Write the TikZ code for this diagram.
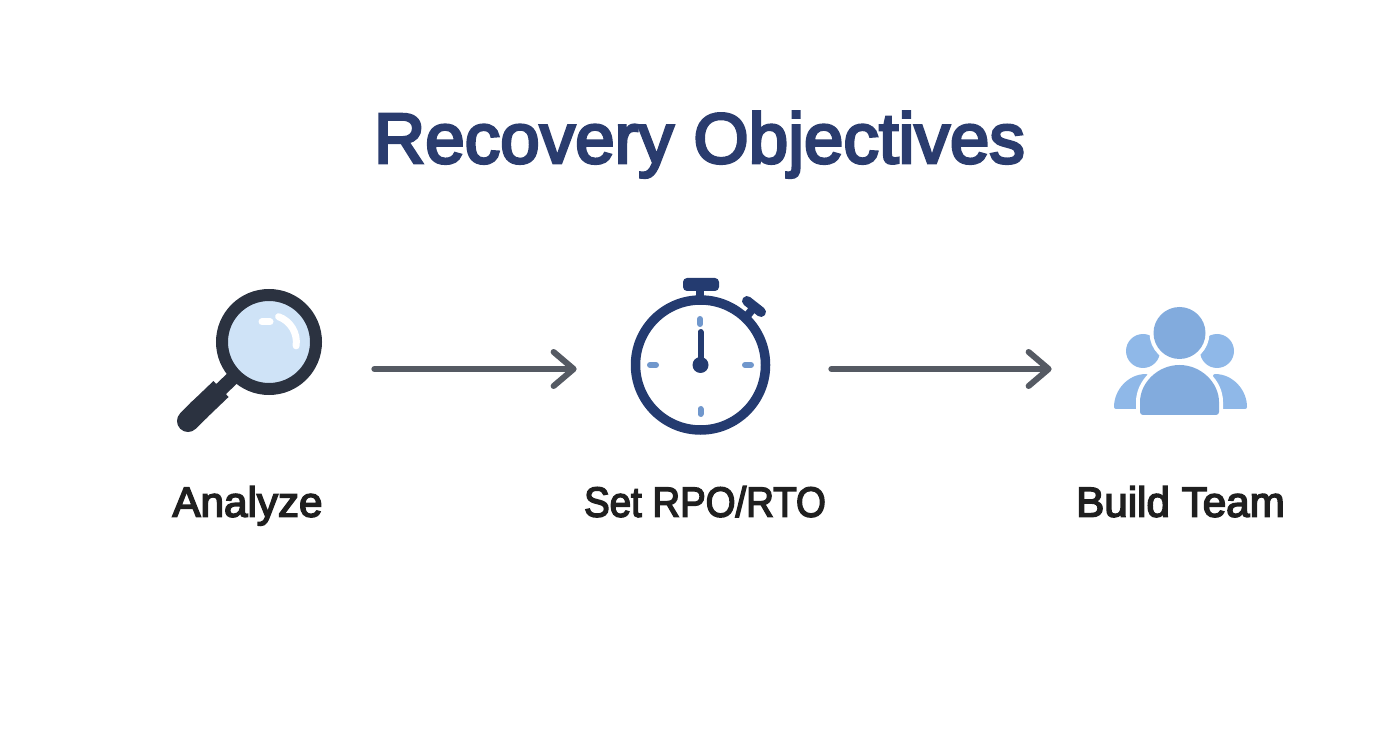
\documentclass[tikz,border=0pt]{standalone}
\usepackage{fontspec}
\setmainfont{Liberation Sans}
\usetikzlibrary{arrows.meta,positioning}
\definecolor{ltitle}{RGB}{42, 60, 110}
\definecolor{lring}{RGB}{43, 50, 64}
\definecolor{llens}{RGB}{207, 227, 247}
\definecolor{lwatch}{RGB}{36, 59, 112}
\definecolor{ltick}{RGB}{112, 151, 204}
\definecolor{lback}{RGB}{143, 184, 232}
\definecolor{lfront}{RGB}{130, 171, 221}
\definecolor{lflow}{RGB}{85, 90, 99}
\newcommand{\heavy}[2]{\special{pdf:code 2 Tr #1 w}#2\special{pdf:code 0 Tr 1 w}}
\tikzstyle{icon} = [inner sep=0pt, minimum height=26.4mm]
\tikzstyle{steplabel} = [font=\fontsize{24}{28}\selectfont, text=black!88, inner sep=0pt,
  text height=5.2mm, text depth=1.2mm, below=11mm of #1]
\tikzstyle{flow} = [draw, line width=1.2mm, color=lflow, line cap=round,
  -{Straight Barb[length=4mm,width=6.8mm,line width=1.2mm,round]}]
\tikzstyle{hand} = [line width=1.2mm, line cap=round, color=lwatch]
\tikzstyle{tick} = [line width=1.2mm, line cap=round, color=ltick]
\tikzstyle{halo} = [fill=lfront, preaction={draw=white, line width=1.6mm}]

\begin{document}
\begin{tikzpicture}[x=0.2mm,y=0.2mm]

  \useasboundingbox (0,0) rectangle (1392,-752);

  %%%%%%%%%%%%%%%%%%%%%%%%%%%%%%%%%%%%%%%%%%%%%%%%%%%%%%%%%%%%%%
  %                    TITLE AND STEPS                         %
  %%%%%%%%%%%%%%%%%%%%%%%%%%%%%%%%%%%%%%%%%%%%%%%%%%%%%%%%%%%%%%

  \node [font=\fontsize{40.4}{46}\selectfont, text=ltitle, inner sep=0pt, anchor=base] (title) at (699.5,-163) {\heavy{1.6}{Recovery Objectives}};

  \node [icon, minimum width=29.2mm] (analyze-icon) at (250,-369) {};
  \node [icon, minimum width=27.8mm] (timer-icon) at (700.5,-369) {};
  \node [icon, minimum width=26.6mm] (team-icon) at (1180.5,-369) {};

  \node [steplabel=analyze-icon, xshift=-0.5mm] (analyze-label) {\heavy{0.9}{Analyze}};
  \node [steplabel=timer-icon, xshift=0.9mm] (timer-label) {\heavy{0.9}{\scalebox{0.91}[1]{Set RPO/RTO}}};
  \node [steplabel=team-icon] (team-label) {\heavy{0.9}{Build Team}};

  \draw [flow, shorten <=10.2mm, shorten >=10.8mm] (analyze-icon.east) -- (timer-icon.west);
  \draw [flow, shorten <=12.2mm, shorten >=12.4mm] (timer-icon.east) -- (team-icon.west);

  %%%%%%%%%%%%%%%%%%%%%%%%%%%%%%%%%%%%%%%%%%%%%%%%%%%%%%%%%%%%%%
  %                    MAGNIFIER                               %
  %%%%%%%%%%%%%%%%%%%%%%%%%%%%%%%%%%%%%%%%%%%%%%%%%%%%%%%%%%%%%%

  \draw [lring, line width=2.8mm] (219,-391) -- (240,-371);
  \draw [lring, line width=4.4mm, line cap=round] (188,-421) -- (200,-409);
  \draw [lring, line width=4.4mm] (198,-411) -- (221,-389);
  \draw [lring, fill=llens, line width=2.4mm] (269,-342) circle [radius=47];
  \draw [white, line width=1.4mm, line cap=round] (262,-322) -- (270,-322);
  \draw [white, line width=1.4mm, line cap=round] (278.6,-316.7) arc [start angle=70, end angle=-8, radius=27];

  %%%%%%%%%%%%%%%%%%%%%%%%%%%%%%%%%%%%%%%%%%%%%%%%%%%%%%%%%%%%%%
  %                    STOPWATCH                               %
  %%%%%%%%%%%%%%%%%%%%%%%%%%%%%%%%%%%%%%%%%%%%%%%%%%%%%%%%%%%%%%

  \fill [lwatch, rounded corners=0.8mm] (683,-278) rectangle (719,-291);
  \draw [lwatch, line width=1.6mm] (700,-290) -- (700,-300);
  \draw [lwatch, line width=1.6mm] (747,-316) -- (755,-306);
  \draw [lwatch, line width=2mm, line cap=round] (747,-301) -- (761,-312);
  \draw [lwatch, fill=white, line width=1.9mm] (700.5,-365) circle [radius=65];
  \draw [hand] (700.5,-332) -- (700.5,-365);
  \fill [lwatch] (700.5,-365) circle [radius=8];
  \draw [tick] (700,-319) -- (700,-324);
  \draw [tick] (700.5,-409) -- (700.5,-414);
  \draw [tick] (650,-365) -- (656,-365);
  \draw [tick] (745,-365) -- (751,-365);

  %%%%%%%%%%%%%%%%%%%%%%%%%%%%%%%%%%%%%%%%%%%%%%%%%%%%%%%%%%%%%%
  %                    TEAM                                    %
  %%%%%%%%%%%%%%%%%%%%%%%%%%%%%%%%%%%%%%%%%%%%%%%%%%%%%%%%%%%%%%

  \fill [lback] (1143,-351) circle [radius=17];
  \fill [lback] (1217,-351) circle [radius=17];
  \fill [lback, rounded corners=0.4mm] (1114,-409) .. controls (1114,-390) and (1128,-374) .. (1148,-374) -- (1148,-409) -- cycle;
  \fill [lback, rounded corners=0.4mm] (1247,-409) .. controls (1247,-390) and (1233,-374) .. (1213,-374) -- (1213,-409) -- cycle;
  \path [halo] (1179.5,-333) circle [radius=26];
  \path [halo, rounded corners=0.6mm] (1140,-415) -- (1140,-405) arc [start angle=180, end angle=0, x radius=39.5, y radius=40] -- (1219,-415) -- cycle;

\end{tikzpicture}
\end{document}
